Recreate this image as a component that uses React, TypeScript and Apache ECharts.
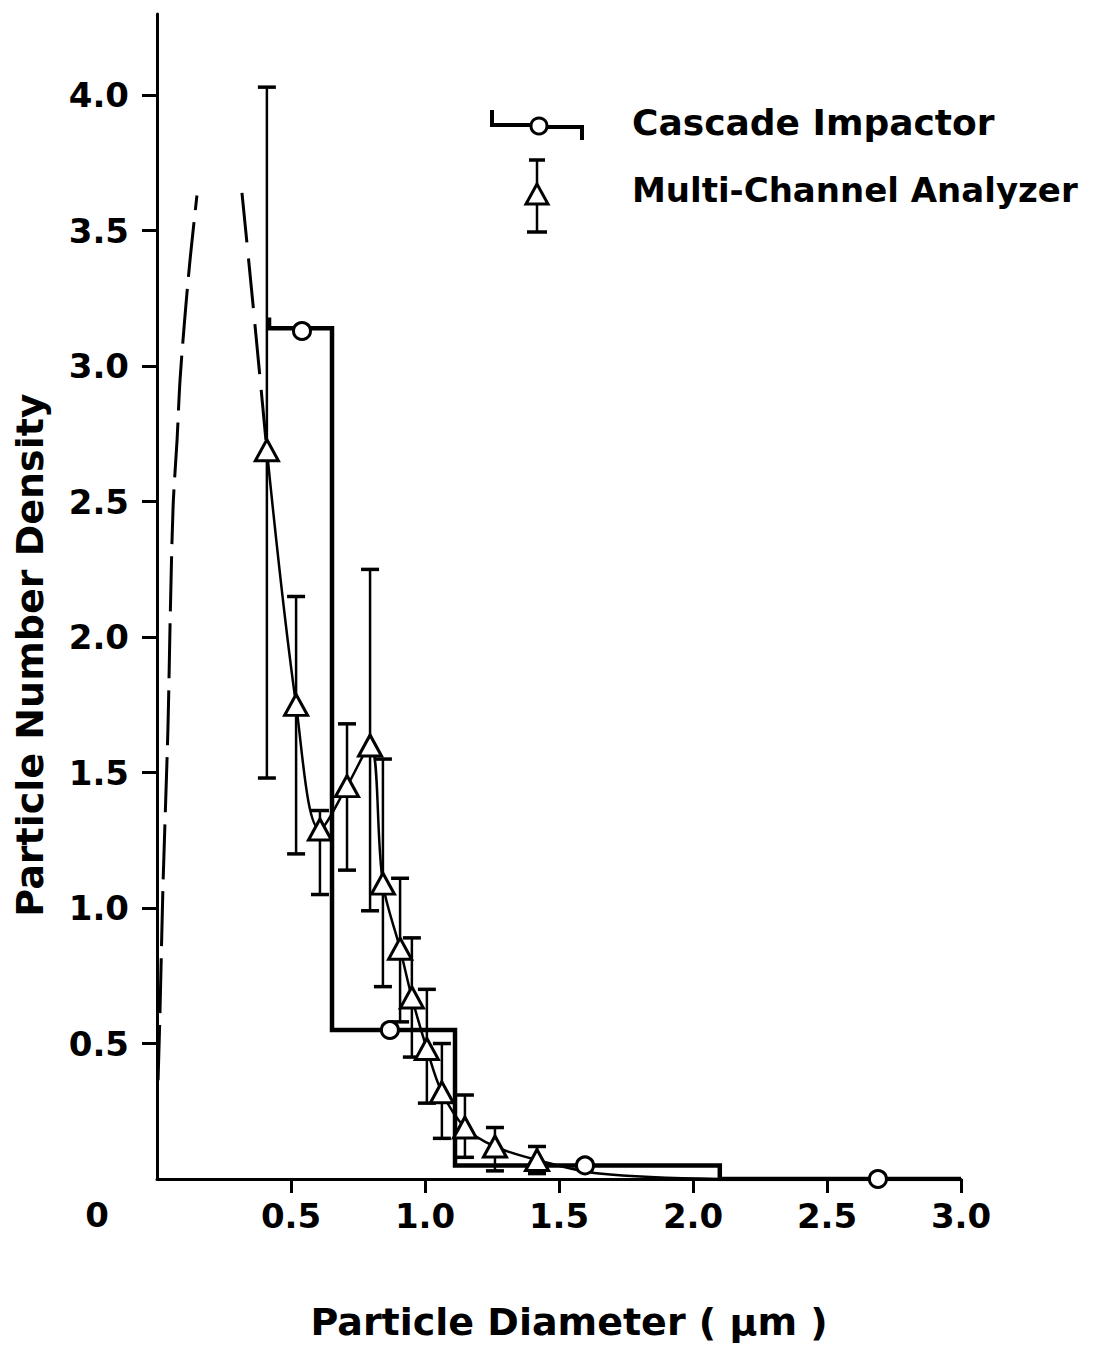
import React, { useEffect, useRef } from "react";
import * as echarts from "echarts";

// ---- Axis tick labels ----
const xTickLabels = ["", "0.5", "1.0", "1.5", "2.0", "2.5", "3.0"];
const yTickLabels = ["", "0.5", "1.0", "1.5", "2.0", "2.5", "3.0", "3.5", "4.0"];
const xTickValues = [0.5, 1.0, 1.5, 2.0, 2.5, 3.0];
const yTickValues = [0.5, 1.0, 1.5, 2.0, 2.5, 3.0, 3.5, 4.0];

// ---- Cascade Impactor (histogram steps) ----
const ciEdges = [0.418, 0.653, 1.112, 2.1, 3.0];
const ciValues = [3.14, 0.55, 0.05, 0.0];
const ciMarkX = [0.541, 0.869, 1.597, 2.69];
const ciMarkY = [3.13, 0.55, 0.05, 0.0];

// ---- Multi-Channel Analyzer ----
const mcaX = [0.41, 0.519, 0.608, 0.709, 0.795, 0.843, 0.907, 0.951, 1.007, 1.063, 1.149, 1.261, 1.418];
const mcaY = [2.69, 1.75, 1.29, 1.45, 1.6, 1.09, 0.85, 0.67, 0.48, 0.32, 0.19, 0.12, 0.07];
const mcaLo = [1.48, 1.2, 1.05, 1.14, 0.99, 0.71, 0.58, 0.45, 0.28, 0.15, 0.08, 0.03, 0.02];
const mcaHi = [4.03, 2.15, 1.36, 1.68, 2.25, 1.55, 1.11, 0.89, 0.7, 0.5, 0.31, 0.19, 0.12];
const mcaTailX = [1.65, 2.1];
const mcaTailY = [0.02, 0.0];

// ---- Dashed extrapolation of the MCA curve ----
const dashLeftX = [0.004, 0.011, 0.022, 0.041, 0.049, 0.06, 0.075, 0.086, 0.104, 0.123, 0.149];
const dashLeftY = [0.365, 0.61, 1.07, 1.67, 2.06, 2.48, 2.73, 2.95, 3.18, 3.39, 3.63];
const dashRightX = [0.317, 0.358, 0.41];
const dashRightY = [3.64, 3.23, 2.69];

const FONT = "DejaVu Sans";

export default function App() {
  const ref = useRef<HTMLDivElement>(null);

  useEffect(() => {
    if (!ref.current) return;
    const chart = echarts.init(ref.current, null, { renderer: "svg" });

    const capUp = 0.04;
    const stepData: number[][] = [[ciEdges[0], ciValues[0] + capUp]];
    for (let i = 0; i < ciValues.length; i++) {
      stepData.push([ciEdges[i], ciValues[i]]);
      stepData.push([ciEdges[i + 1], ciValues[i]]);
    }

    const mcaLine = mcaX.map((x, i) => [x, mcaY[i]]).concat(mcaTailX.map((x, i) => [x, mcaTailY[i]]));
    const mcaPts = mcaX.map((x, i) => [x, mcaY[i]]);
    const errData = mcaX.map((x, i) => [x, mcaLo[i], mcaHi[i]]);
    const dashL = dashLeftX.map((x, i) => [x, dashLeftY[i]]);
    const dashR = dashRightX.map((x, i) => [x, dashRightY[i]]);

    const textStyleBase = { fontFamily: FONT, fontWeight: "bold" as const, color: "#000" };

    const option: any = {
      animation: false,
      backgroundColor: "#fff",
      grid: { left: 157, right: 136, top: 14, bottom: 168, containLabel: false },
      xAxis: {
        type: "value",
        min: 0,
        max: 3,
        interval: 0.5,
        splitLine: { show: false },
        axisLine: { show: true, onZero: false, lineStyle: { color: "#000", width: 3 } },
        axisTick: { show: true, length: 14, customValues: xTickValues, lineStyle: { color: "#000", width: 3 } },
        axisLabel: {
          margin: 20,
          fontSize: 34,
          ...textStyleBase,
          formatter: (v: number) => xTickLabels[Math.round(v / 0.5)] ?? "",
        },
      },
      yAxis: {
        type: "value",
        min: 0,
        max: 4.3,
        interval: 0.5,
        splitLine: { show: false },
        axisLine: { show: true, onZero: false, lineStyle: { color: "#000", width: 3 } },
        axisTick: { show: true, length: 15, customValues: yTickValues, lineStyle: { color: "#000", width: 3 } },
        axisLabel: {
          margin: 28,
          fontSize: 34,
          showMaxLabel: false,
          ...textStyleBase,
          formatter: (v: number) => yTickLabels[Math.round(v / 0.5)] ?? "",
        },
      },
      series: [
        {
          name: "dashL",
          type: "line",
          data: dashL,
          smooth: 0.3,
          symbol: "none",
          lineStyle: { color: "#000", width: 3, type: [55, 12] },
          z: 2,
        },
        {
          name: "dashR",
          type: "line",
          data: dashR,
          smooth: 0.3,
          symbol: "none",
          lineStyle: { color: "#000", width: 3, type: [50, 16] },
          z: 2,
        },
        {
          name: "Cascade Impactor",
          type: "line",
          data: stepData,
          symbol: "none",
          lineStyle: { color: "#000", width: 4.5, join: "miter" },
          z: 3,
        },
        {
          name: "mcaCurve",
          type: "line",
          data: mcaLine,
          smooth: 0.35,
          symbol: "none",
          lineStyle: { color: "#000", width: 2.5 },
          z: 3,
        },
        {
          name: "mcaErr",
          type: "custom",
          data: errData,
          encode: { x: 0, y: [1, 2] },
          z: 4,
          renderItem: (params: any, api: any) => {
            const x = api.value(0);
            const lo = api.coord([x, api.value(1)]);
            const hi = api.coord([x, api.value(2)]);
            const c = 9;
            const st = { stroke: "#000", lineWidth: 2.5 };
            const cs = { stroke: "#000", lineWidth: 3.5 };
            return {
              type: "group",
              children: [
                { type: "line", shape: { x1: lo[0], y1: lo[1], x2: hi[0], y2: hi[1] }, style: st },
                { type: "line", shape: { x1: lo[0] - c, y1: lo[1], x2: lo[0] + c, y2: lo[1] }, style: cs },
                { type: "line", shape: { x1: hi[0] - c, y1: hi[1], x2: hi[0] + c, y2: hi[1] }, style: cs },
              ],
            };
          },
        },
        {
          name: "Cascade Impactor points",
          type: "scatter",
          data: ciMarkX.map((x, i) => [x, ciMarkY[i]]),
          symbol: "circle",
          symbolSize: 17,
          itemStyle: { color: "#fff", borderColor: "#000", borderWidth: 3, opacity: 1 },
          z: 6,
        },
        {
          name: "Multi-Channel Analyzer",
          type: "scatter",
          data: mcaPts,
          symbol: "triangle",
          symbolSize: [23, 21],
          itemStyle: { color: "#fff", borderColor: "#000", borderWidth: 3, opacity: 1 },
          z: 7,
        },
      ],
      graphic: [
        // zero label at the origin
        {
          type: "text",
          x: 97,
          y: 1215,
          style: { text: "0", font: `bold 34px '${FONT}'`, fill: "#000", textAlign: "center", textVerticalAlign: "middle" },
        },
        // axis titles
        {
          type: "text",
          x: 569,
          y: 1322,
          style: {
            text: "Particle Diameter ( μm )",
            font: `bold 38px '${FONT}'`,
            fill: "#000",
            textAlign: "center",
            textVerticalAlign: "middle",
          },
        },
        {
          type: "text",
          x: 30,
          y: 655,
          rotation: Math.PI / 2,
          style: {
            text: "Particle Number Density",
            font: `bold 38px '${FONT}'`,
            fill: "#000",
            textAlign: "center",
            textVerticalAlign: "middle",
          },
        },
        // legend: cascade impactor
        {
          type: "polyline",
          shape: { points: [[492, 110], [492, 125], [531, 125]] },
          style: { stroke: "#000", lineWidth: 4, fill: null },
        },
        {
          type: "polyline",
          shape: { points: [[547, 127], [582, 127], [582, 140]] },
          style: { stroke: "#000", lineWidth: 4, fill: null },
        },
        {
          type: "circle",
          shape: { cx: 539, cy: 126, r: 8 },
          style: { fill: "#fff", stroke: "#000", lineWidth: 3 },
        },
        {
          type: "text",
          x: 632,
          y: 122,
          style: { text: "Cascade Impactor", font: `bold 36px '${FONT}'`, fill: "#000", textAlign: "left", textVerticalAlign: "middle" },
        },
        // legend: multi-channel analyzer
        {
          type: "line",
          shape: { x1: 537, y1: 160, x2: 537, y2: 232 },
          style: { stroke: "#000", lineWidth: 2.5 },
        },
        {
          type: "line",
          shape: { x1: 529, y1: 160, x2: 545, y2: 160 },
          style: { stroke: "#000", lineWidth: 3.5 },
        },
        {
          type: "line",
          shape: { x1: 527, y1: 232, x2: 547, y2: 232 },
          style: { stroke: "#000", lineWidth: 3.5 },
        },
        {
          type: "polygon",
          shape: { points: [[537, 184], [526, 204], [548, 204]] },
          style: { fill: "#fff", stroke: "#000", lineWidth: 3 },
        },
        {
          type: "text",
          x: 632,
          y: 190,
          style: { text: "Multi-Channel Analyzer", font: `bold 34px '${FONT}'`, fill: "#000", textAlign: "left", textVerticalAlign: "middle" },
        },
      ],
    };

    chart.setOption(option);
    return () => chart.dispose();
  }, []);

  return (
    <div
      ref={ref}
      style={{ position: "absolute", left: 0, top: 0, width: 1097, height: 1347, background: "#fff" }}
    />
  );
}
